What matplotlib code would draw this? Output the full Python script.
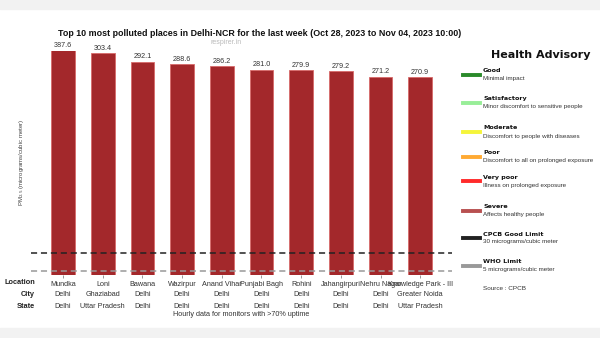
import matplotlib
matplotlib.use("Agg")
import matplotlib.pyplot as plt
from matplotlib.lines import Line2D
from matplotlib.patches import Rectangle

locations = ["Mundka", "Loni", "Bawana", "Wazirpur", "Anand Vihar", "Punjabi Bagh",
             "Rohini", "Jahangirpuri", "Nehru Nagar", "Knowledge Park - III"]
cities = ["Delhi", "Ghaziabad", "Delhi", "Delhi", "Delhi", "Delhi", "Delhi", "Delhi",
          "Delhi", "Greater Noida"]
states = ["Delhi", "Uttar Pradesh", "Delhi", "Delhi", "Delhi", "Delhi", "Delhi", "Delhi",
          "Delhi", "Uttar Pradesh"]
pm25 = [387.6, 303.4, 292.1, 288.6, 286.2, 281.0, 279.9, 279.2, 271.2, 270.9]
cpcb_limit = 30
who_limit = 5

adv_names = ["Good", "Satisfactory", "Moderate", "Poor", "Very poor", "Severe",
             "CPCB Good Limit", "WHO Limit"]
adv_desc = ["Minimal impact", "Minor discomfort to sensitive people",
            "Discomfort to people with diseases", "Discomfort to all on prolonged exposure",
            "Illness on prolonged exposure", "Affects healthy people",
            "30 micrograms/cubic meter", "5 micrograms/cubic meter"]
adv_colors = ["#2a8a2a", "#98ee98", "#f5f53a", "#ffaa33", "#ff2a2a", "#b85050",
              "#222222", "#999999"]

plt.rcParams['font.family'] = ['Liberation Sans', 'DejaVu Sans']

fig = plt.figure(figsize=(6, 3.38), dpi=100)
fig.patch.set_facecolor("white")
# gray bands
fig.add_artist(Rectangle((0, 1 - 9/338), 1, 9/338, transform=fig.transFigure,
                         color="#f2f2f2", zorder=0))
fig.add_artist(Rectangle((0, 0), 1, 10.5/338, transform=fig.transFigure,
                         color="#f2f2f2", zorder=0))

ax = fig.add_axes([30.5/600, 1 - 275/338, (452 - 30.5)/600, (275 - 50.7)/338])
x = list(range(len(locations)))
ax.bar(x, pm25, width=0.6, color="#a3282b", edgecolor="#d86a6a", linewidth=0.6, zorder=2)
ax.set_xlim(-0.82, 9.8)
ax.set_ylim(0, 307)
ax.axhline(cpcb_limit, color="#222222", lw=1.1, ls=(0, (4, 2.5)), zorder=3)
ax.axhline(who_limit, color="#999999", lw=1.1, ls=(0, (4, 2.5)), zorder=3)
for xi, v in zip(x, pm25):
    ax.annotate(f"{v:.1f}", (xi, min(v, 307)), xytext=(0, 1), textcoords="offset points",
                ha="center", va="bottom", fontsize=5.2, color="#333333",
                annotation_clip=False)
for s in ax.spines.values():
    s.set_visible(False)
ax.set_yticks([])
ax.set_xticks(x)
ax.set_xticklabels(locations, fontsize=5.2, color="#333333")
ax.tick_params(axis="x", length=2.5, width=0.6, color="#888888", pad=2)
ax.set_ylabel("PM$_{2.5}$ (micrograms/cubic meter)", fontsize=4.3, color="#444444",
              labelpad=3)

# row headers and rows
for label, yy in [("Location", 282), ("City", 295), ("State", 307)]:
    fig.text(35/600, 1 - yy/338, label, ha="right", va="center", fontsize=5.3,
             fontweight="bold", color="#222222")
trans = ax.get_xaxis_transform()
for xi, c, st in zip(x, cities, states):
    ax.text(xi, -(295 - 275) / (275 - 50.7), c, transform=trans, ha="center", va="center",
            fontsize=5.2, color="#333333")
    ax.text(xi, -(307 - 275) / (275 - 50.7), st, transform=trans, ha="center", va="center",
            fontsize=5.2, color="#333333")
fig.text(241/600, 1 - 315/338, "Hourly data for monitors with >70% uptime", ha="center",
         va="center", fontsize=5.2, color="#333333")

fig.text(58/600, 1 - 33.5/338,
         "Top 10 most polluted places in Delhi-NCR for the last week (Oct 28, 2023 to Nov 04, 2023 10:00)",
         ha="left", va="center", fontsize=6.4, fontweight="bold", color="#111111")
fig.text(226/600, 1 - 43/338, "respirer.in", ha="center", va="center", fontsize=5,
         color="#bbbbbb")

# Health advisory legend
fig.text(541/600, 1 - 55/338, "Health Advisory", ha="center", va="center", fontsize=8.0,
         fontweight="bold", family="DejaVu Sans", color="#111111")
ys = [74.7, 102.7, 132, 156.7, 181, 210.7, 238, 265.7]
for name, desc, col, yy in zip(adv_names, adv_desc, adv_colors, ys):
    fig.add_artist(Line2D([463/600, 480/600], [1 - yy/338, 1 - yy/338], color=col, lw=2.8,
                          transform=fig.transFigure))
    fig.text(483/600, 1 - (yy - 4)/338, name, ha="left", va="center", fontsize=4.6,
             fontweight="bold", family="DejaVu Sans", color="#111111")
    fig.text(483/600, 1 - (yy + 4)/338, desc, ha="left", va="center", fontsize=4.5,
             color="#333333")
fig.text(483/600, 1 - 289/338, "Source : CPCB", ha="left", va="center", fontsize=4.6,
         color="#333333")

fig.savefig("out.png", dpi=100)
